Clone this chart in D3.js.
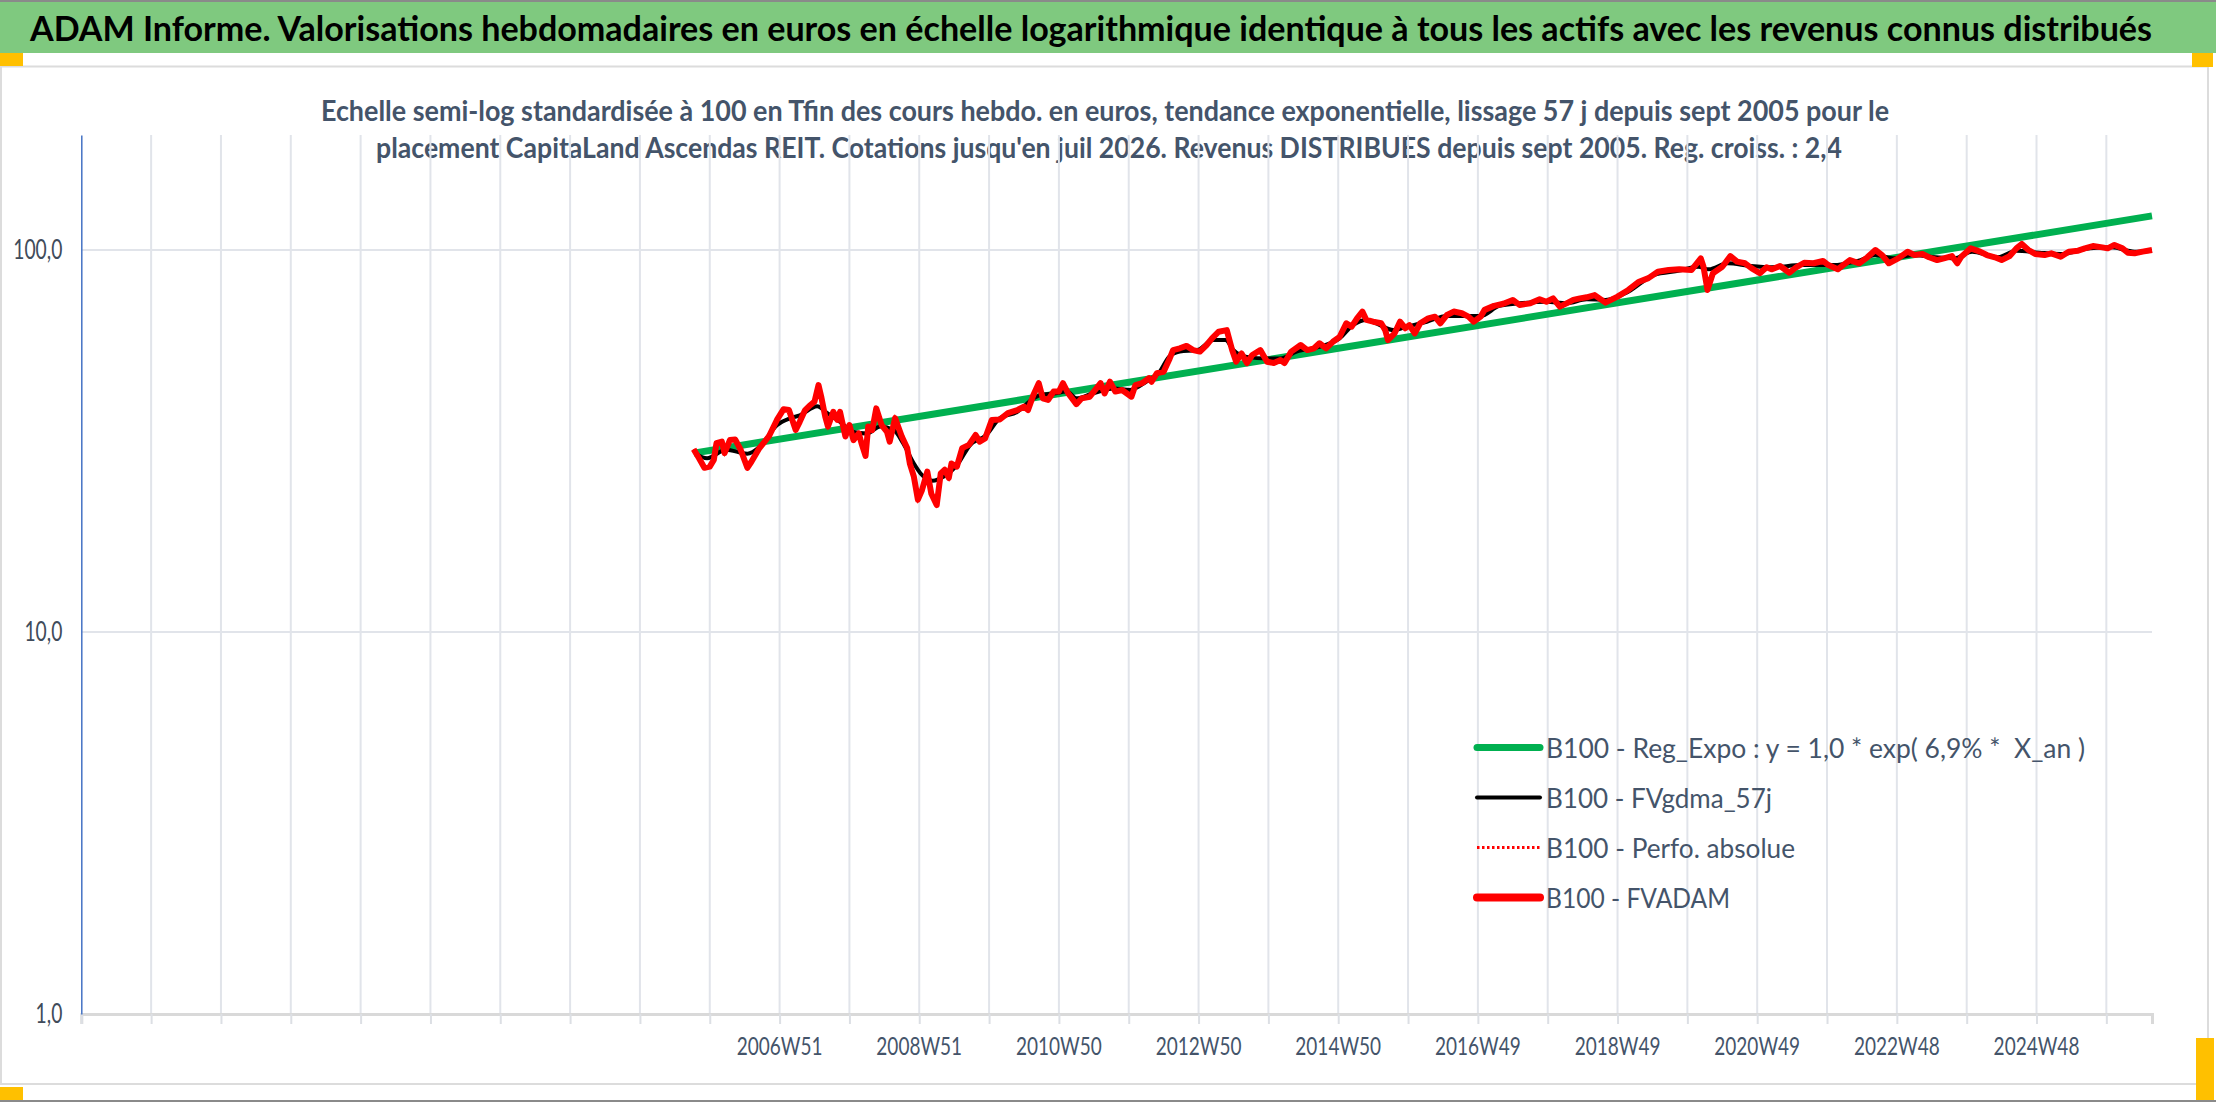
<!DOCTYPE html>
<html>
<head>
<meta charset="utf-8">
<title>ADAM Informe - CapitaLand Ascendas REIT</title>
<script src="https://d3js.org/d3.v7.min.js"></script>
<style>
  body { margin: 0; background: #ffffff; }
  svg { display: block; font-family: Lato, "Open Sans", sans-serif; }
  .lbl { fill: #44546a; }
</style>
</head>
<body>
<svg id="chart" width="2216" height="1102"></svg>
<script>
// ---- data (x = weekly category index, y = base-100 value) ----
const titleText = "ADAM Informe. Valorisations hebdomadaires en euros en échelle logarithmique identique à tous les actifs avec les revenus connus distribués";
const subtitleLines = [
  "Echelle semi-log standardisée à 100 en Tfin des cours hebdo. en euros, tendance exponentielle, lissage 57 j depuis sept 2005 pour le",
  "placement CapitaLand Ascendas REIT. Cotations jusqu'en juil 2026. Revenus DISTRIBUES depuis sept 2005. Reg. croiss. : 2,4"
];
const legendNames = [
  "B100 - Reg_Expo : y = 1,0 * exp( 6,9% *  X_an )",
  "B100 - FVgdma_57j",
  "B100 - Perfo. absolue",
  "B100 - FVADAM"
];

const lastWeek = 1542;
const xLabels = ["2006W51","2008W51","2010W50","2012W50","2014W50","2016W49","2018W49","2020W49","2022W48","2024W48"];
const xLabelWeeks = [520, 624, 728, 832, 936, 1040, 1144, 1248, 1352, 1456];
const yTicks = [1, 10, 100];

// exponential regression (straight on the log scale)
const regWeeks = [456, 1542];
const regValues = [29.4, 122.8];

// FVADAM (weekly value)
const fvWeeks = [456,460,464,468,471,473,477,479,483,487,491,496,499,505,512,518,523,527,529,532,
  535,539,543,546,549,551,554,556,560,563,565,569,572,575,579,581,584,586,589,592,
  596,600,602,606,611,615,617,620,623,626,630,633,637,640,643,646,648,652,656,661,
  666,669,673,678,684,690,697,702,705,709,713,716,720,724,728,731,735,741,745,751,
  759,762,766,770,775,782,785,790,795,797,801,806,810,813,818,823,828,833,838,842,
  847,853,857,860,864,868,872,878,883,888,893,896,901,908,913,918,922,927,932,937,
  942,946,950,954,957,962,968,971,973,978,982,986,989,993,997,1003,1008,1012,1017,1022,
  1028,1033,1037,1042,1045,1052,1059,1066,1071,1079,1086,1091,1096,1101,1106,1111,1116,1121,1127,1135,
  1144,1152,1160,1167,1174,1182,1190,1199,1206,1208,1211,1215,1222,1228,1233,1239,1244,1250,1255,1259,
  1265,1272,1277,1283,1290,1297,1301,1308,1312,1317,1324,1330,1336,1341,1346,1353,1360,1365,1371,1376,
  1382,1387,1393,1397,1400,1407,1414,1419,1425,1430,1436,1441,1445,1450,1455,1462,1467,1474,1480,1487,
  1492,1498,1505,1509,1514,1520,1524,1529,1535,1542];
const fvValues = [30.1,28.5,26.9,27.1,28.2,31.2,31.5,29.4,31.8,31.9,30.0,26.9,27.9,30.3,32.5,35.9,38.3,38.1,36.3,33.8,
  35.5,38.1,39.3,40.1,44.3,41.3,36.6,34.5,37.7,35.9,37.7,32.5,34.8,31.8,33.1,31.2,28.9,34.5,33.8,38.5,
  34.8,33.4,31.5,36.3,32.5,30.3,27.6,25.5,22.2,23.5,26.3,23.0,21.5,26.0,26.6,25.3,27.6,27.1,30.3,30.9,
  32.8,31.5,32.1,35.9,36.0,37.4,38.1,38.9,38.1,41.7,44.8,40.9,40.5,42.6,42.6,44.8,42.1,39.5,40.9,41.3,
  44.8,42.1,45.2,42.6,43.0,41.3,44.3,44.8,46.2,45.2,47.6,48.0,51.5,54.7,55.3,56.1,54.7,54.2,56.4,58.7,
  61.1,61.7,54.7,51.0,53.6,50.6,53.1,54.7,51.0,50.6,51.5,50.6,54.2,56.4,54.7,55.3,57.0,55.3,57.5,59.2,
  64.3,63.0,66.2,69.0,65.6,64.9,64.3,61.7,58.1,60.5,64.9,62.4,63.6,60.5,64.3,66.2,66.9,64.3,67.6,69.0,
  68.3,66.9,64.9,66.9,69.7,71.4,72.3,74.0,71.8,72.5,74.3,73.2,74.7,71.1,72.5,74.0,74.7,75.2,76.2,72.8,
  75.5,78.6,82.6,84.4,87.7,88.6,89.0,88.6,95.1,90.4,78.6,86.9,90.4,96.4,93.2,92.3,89.5,86.9,90.1,89.0,
  90.8,87.2,90.1,92.6,92.3,93.6,91.3,89.0,91.3,94.1,92.3,95.7,100.0,97.0,92.3,95.1,99.0,97.0,97.6,95.7,
  94.1,95.1,96.4,92.3,96.0,101.0,99.0,97.0,95.7,94.1,96.4,101.0,103.7,100.0,97.6,97.0,98.0,96.0,99.0,99.6,
  101.0,102.4,101.6,101.0,103.1,101.0,98.4,98.0,99.0,100.0];

// FVgdma_57j (smoothed)
const gdmaWeeks = [457,466,480,496,505,518,528,535,548,555,565,575,585,595,605,612,620,625,634,642,
  652,662,674,684,697,706,714,724,734,741,753,769,781,793,803,810,818,831,843,852,
  858,868,883,893,905,922,937,947,957,967,977,987,1002,1017,1032,1042,1056,1071,1091,1106,
  1121,1135,1152,1171,1190,1204,1212,1226,1243,1259,1281,1303,1325,1336,1350,1364,1381,1395,1408,1427,
  1441,1458,1474,1496,1512,1529,1542];
const gdmaValues = [29.4,28.5,30.0,29.3,30.5,34.8,36.3,36.9,39.0,37.5,35.5,33.4,33.1,34.5,33.8,31.2,27.6,26.0,24.9,25.5,
  27.3,30.9,32.8,36.3,37.7,40.1,41.7,42.1,42.6,40.9,42.1,43.4,43.0,45.2,48.0,52.5,54.2,54.7,58.1,58.1,
  54.7,52.5,52.0,52.0,54.2,55.8,58.7,63.6,65.6,63.6,61.7,63.0,64.9,67.2,67.2,67.2,71.4,72.5,73.2,72.5,
  74.3,74.0,77.8,86.0,88.3,90.4,89.0,92.3,90.8,90.1,91.3,91.3,94.1,97.0,95.1,97.0,95.7,95.1,99.0,95.7,
  99.6,98.4,97.6,101.0,101.6,99.0,99.6];

const zip = (a, b) => a.map((v, i) => [v, b[i]]);
const regData = zip(regWeeks, regValues);
const fvData = zip(fvWeeks, fvValues);
const gdmaData = zip(gdmaWeeks, gdmaValues);

// ---- layout ----
const W = 2216, H = 1102;
const plotLeft = 81.3, plotRight = 2152, plotTop = 135, plotBottom = 1014;

const svg = d3.select("#chart");

// narrow the text horizontally (the source uses a condensed Calibri-like face)
function squeeze(sel, k) {
  sel.each(function() {
    const w = this.getComputedTextLength();
    d3.select(this).attr("textLength", w * k).attr("lengthAdjust", "spacingAndGlyphs");
  });
}

// frame
svg.append("rect").attr("width", W).attr("height", H).attr("fill", "#ffffff");
svg.append("rect").attr("x", 0).attr("y", 2).attr("width", W).attr("height", 51).attr("fill", "#7fc97f");
svg.append("rect").attr("x", 0).attr("y", 0).attr("width", W).attr("height", 2).attr("fill", "#8a8a8a");
svg.append("rect").attr("x", 0).attr("y", H - 2).attr("width", W).attr("height", 2).attr("fill", "#8a8a8a");
svg.append("rect").attr("x", 1).attr("y", 66.5).attr("width", 2207).attr("height", 1017.5)
  .attr("fill", "none").attr("stroke", "#dcdcdc").attr("stroke-width", 2);
svg.append("rect").attr("x", 0).attr("y", 53).attr("width", 23).attr("height", 13).attr("fill", "#ffc000");
svg.append("rect").attr("x", 2192).attr("y", 53).attr("width", 21).attr("height", 14).attr("fill", "#ffc000");
svg.append("rect").attr("x", 0).attr("y", 1087).attr("width", 23).attr("height", 13).attr("fill", "#ffc000");
svg.append("rect").attr("x", 2196).attr("y", 1038).attr("width", 18).attr("height", 62).attr("fill", "#ffc000");

// titles
svg.append("text").attr("x", 30).attr("y", 41)
  .attr("font-size", 35).attr("font-weight", "bold").attr("fill", "#000")
  .attr("textLength", 2122).attr("lengthAdjust", "spacingAndGlyphs")
  .text(titleText);

const subX = [321, 376], subW = [1568, 1466], subY = [121, 158];
subtitleLines.forEach((s, i) => {
  svg.append("text").attr("class", "lbl").attr("x", subX[i]).attr("y", subY[i])
    .attr("font-size", 28).attr("font-weight", "bold")
    .attr("textLength", subW[i]).attr("lengthAdjust", "spacingAndGlyphs")
    .text(s);
});

// scales
const x = d3.scaleLinear().domain([0, lastWeek]).range([plotLeft, plotRight]);
const y = d3.scaleLog().domain([1, 200]).range([plotBottom, plotTop]);

const gridWeeks = d3.range(52, lastWeek, 52);
const tickWeeks = d3.range(0, lastWeek, 52);

// vertical gridlines
svg.append("g").selectAll("line").data(gridWeeks).join("line")
  .attr("x1", d => x(d)).attr("x2", d => x(d))
  .attr("y1", plotTop).attr("y2", plotBottom)
  .attr("stroke", "#e1e4ea").attr("stroke-width", 2);

// horizontal gridlines
svg.append("g").selectAll("line").data(yTicks.filter(d => d > 1)).join("line")
  .attr("x1", plotLeft).attr("x2", plotRight)
  .attr("y1", d => y(d)).attr("y2", d => y(d))
  .attr("stroke", "#e1e4ea").attr("stroke-width", 2);

// x axis
const xAxis = svg.append("g").attr("transform", "translate(0," + plotBottom + ")")
  .call(d3.axisBottom(x).tickValues(tickWeeks).tickSize(10).tickFormat(""));
xAxis.select(".domain").attr("stroke", "#d9d9d9").attr("stroke-width", 3);
xAxis.selectAll(".tick line").attr("stroke", "#dcdfe4").attr("stroke-width", 2);

svg.append("g").selectAll("text").data(xLabels).join("text")
  .attr("class", "lbl")
  .attr("x", (d, i) => x(xLabelWeeks[i])).attr("y", 1055)
  .attr("text-anchor", "middle").attr("font-size", 25)
  .text(d => d)
  .call(squeeze, 0.76);

// y axis
const yAxis = svg.append("g").attr("transform", "translate(" + plotLeft + ",0)")
  .call(d3.axisLeft(y).tickValues(yTicks).tickSize(0).tickPadding(19)
    .tickFormat(d => d3.format(".1f")(d).replace(".", ",")));
yAxis.select(".domain").attr("stroke", "#4472c4").attr("stroke-width", 1.5);
yAxis.selectAll(".tick text").attr("font-size", 26).attr("fill", "#404b5a")
  .attr("font-family", "Lato, 'Open Sans', sans-serif")
  .call(squeeze, 0.74);

// series
const line = d3.line().x(d => x(d[0])).y(d => y(d[1]));
const smooth = d3.line().x(d => x(d[0])).y(d => y(d[1])).curve(d3.curveMonotoneX);

svg.append("path").datum(regData).attr("d", line)
  .attr("fill", "none").attr("stroke", "#00b050").attr("stroke-width", 7);
svg.append("path").datum(gdmaData).attr("d", smooth)
  .attr("fill", "none").attr("stroke", "#000").attr("stroke-width", 4).attr("stroke-linejoin", "round");
svg.append("path").datum(fvData).attr("d", line)
  .attr("fill", "none").attr("stroke", "#ff0000").attr("stroke-width", 2.5).attr("stroke-dasharray", "2,2");
svg.append("path").datum(fvData).attr("d", line)
  .attr("fill", "none").attr("stroke", "#ff0000").attr("stroke-width", 6).attr("stroke-linejoin", "round");

// legend
const legColors = ["#00b050", "#000000", "#ff0000", "#ff0000"];
const legWidths = [7, 4, 3, 8];
const legDash = [null, null, "2.5,2.5", null];
const legTextW = [539, 226, 249, 184];
const legend = svg.append("g");
legendNames.forEach((name, i) => {
  const cy = 747.5 + 50 * i;
  legend.append("line").attr("x1", 1477).attr("x2", 1540).attr("y1", cy).attr("y2", cy)
    .attr("stroke", legColors[i]).attr("stroke-width", legWidths[i])
    .attr("stroke-dasharray", legDash[i]).attr("stroke-linecap", legDash[i] ? "butt" : "round");
  legend.append("text").attr("class", "lbl").attr("x", 1546).attr("y", cy + 10.5)
    .attr("font-size", 27).style("white-space", "pre")
    .attr("textLength", legTextW[i]).attr("lengthAdjust", "spacingAndGlyphs")
    .text(name);
});
</script>
</body>
</html>
